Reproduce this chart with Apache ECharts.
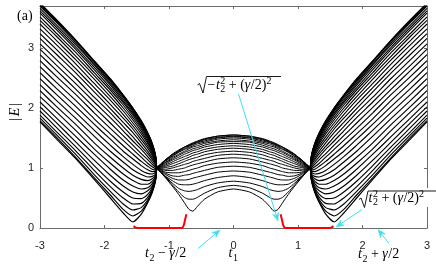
<!DOCTYPE html>
<html><head><meta charset="utf-8">
<script src="https://cdn.jsdelivr.net/npm/echarts@6/dist/echarts.min.js"></script>
<style>html,body{margin:0;padding:0;background:#fff}#c{width:436px;height:272px}</style>
</head><body><div id="c"></div>
<script>
// ---------------- data ----------------
const xTicks = [-3, -2, -1, 0, 1, 2, 3];
const yTicks = [0, 1, 2, 3];

// outer branches |E|(t1) for t1 >= crossing (mirror image on the left)
const wingX = [1.19, 1.21, 1.26, 1.33, 1.43, 1.56, 1.71, 1.91, 2.16, 2.45, 2.75, 3.0];
const wingE = [
  [1.00,1.00,1.00,1.00,1.00,1.00,1.00,1.00,1.00,1.00,1.00,1.00,1.00,1.00,1.00,1.00,1.00,1.00,1.00,1.00,1.00,1.00,1.00,1.00,1.00,1.00,1.00,1.00,1.00,1.00],
  [1.22,1.21,1.21,1.20,1.20,1.19,1.17,1.16,1.15,1.13,1.11,1.09,1.08,1.06,1.03,1.01,0.99,0.97,0.95,0.93,0.90,0.88,0.86,0.85,0.83,0.82,0.80,0.79,0.79,0.78],
  [1.41,1.41,1.40,1.39,1.38,1.36,1.34,1.32,1.29,1.27,1.24,1.21,1.17,1.14,1.10,1.06,1.02,0.98,0.94,0.90,0.86,0.82,0.78,0.74,0.70,0.67,0.64,0.62,0.60,0.59],
  [1.59,1.58,1.57,1.56,1.54,1.52,1.50,1.47,1.44,1.41,1.37,1.33,1.28,1.24,1.19,1.14,1.08,1.03,0.97,0.91,0.85,0.79,0.73,0.67,0.62,0.56,0.51,0.47,0.44,0.42],
  [1.79,1.78,1.77,1.75,1.73,1.71,1.68,1.65,1.61,1.57,1.52,1.47,1.42,1.36,1.31,1.24,1.18,1.11,1.04,0.96,0.89,0.81,0.73,0.65,0.57,0.49,0.41,0.34,0.28,0.23],
  [2.00,2.00,1.98,1.96,1.94,1.91,1.88,1.84,1.80,1.75,1.70,1.65,1.59,1.52,1.45,1.38,1.31,1.23,1.15,1.06,0.97,0.88,0.79,0.70,0.60,0.50,0.40,0.30,0.20,0.10],
  [2.22,2.21,2.20,2.18,2.15,2.12,2.09,2.05,2.00,1.95,1.89,1.83,1.76,1.69,1.62,1.54,1.46,1.37,1.28,1.19,1.10,1.00,0.90,0.80,0.70,0.60,0.50,0.40,0.31,0.25],
  [2.49,2.48,2.46,2.44,2.41,2.38,2.34,2.30,2.25,2.19,2.13,2.06,1.99,1.92,1.84,1.75,1.66,1.57,1.48,1.38,1.28,1.18,1.08,0.98,0.88,0.78,0.69,0.61,0.55,0.50],
  [2.79,2.78,2.77,2.74,2.72,2.68,2.64,2.59,2.54,2.48,2.41,2.34,2.27,2.18,2.10,2.01,1.92,1.82,1.73,1.63,1.53,1.42,1.32,1.23,1.13,1.04,0.96,0.89,0.84,0.81],
  [3.14,3.13,3.12,3.09,3.06,3.02,2.98,2.93,2.87,2.81,2.74,2.66,2.59,2.50,2.41,2.32,2.23,2.13,2.03,1.93,1.83,1.73,1.63,1.53,1.44,1.36,1.29,1.23,1.18,1.16],
  [3.48,3.47,3.45,3.43,3.39,3.35,3.31,3.25,3.20,3.13,3.06,2.98,2.90,2.81,2.72,2.63,2.53,2.43,2.33,2.23,2.13,2.03,1.94,1.84,1.76,1.68,1.61,1.56,1.52,1.49],
  [3.75,3.74,3.72,3.70,3.66,3.62,3.58,3.52,3.46,3.40,3.32,3.24,3.16,3.07,2.98,2.89,2.79,2.69,2.59,2.49,2.39,2.29,2.19,2.10,2.02,1.95,1.88,1.83,1.79,1.77]
];

// central dome |E|(t1) for 0 <= t1 <= crossing (mirror image on the left)
const domeX = [0, 0.25, 0.45, 0.56, 0.63, 0.69, 0.76, 0.85, 0.95, 1.05, 1.13, 1.19];
const domeE = [
  [1.55,1.55,1.53,1.52,1.50,1.47,1.44,1.41,1.37,1.33,1.28,1.23,1.17,1.10,1.03,0.95,0.87,0.78,0.71,0.65],
  [1.53,1.53,1.51,1.50,1.48,1.45,1.43,1.39,1.35,1.31,1.26,1.21,1.15,1.08,1.01,0.93,0.84,0.75,0.67,0.60],
  [1.49,1.48,1.47,1.45,1.43,1.41,1.38,1.35,1.31,1.27,1.22,1.16,1.10,1.04,0.96,0.88,0.79,0.69,0.58,0.48],
  [1.45,1.44,1.43,1.42,1.40,1.37,1.34,1.31,1.27,1.23,1.18,1.13,1.07,1.00,0.93,0.85,0.75,0.64,0.51,0.36],
  [1.42,1.41,1.40,1.39,1.37,1.35,1.32,1.29,1.25,1.21,1.16,1.11,1.05,0.98,0.91,0.83,0.73,0.62,0.48,0.28],
  [1.39,1.38,1.37,1.36,1.34,1.32,1.29,1.26,1.22,1.18,1.14,1.08,1.03,0.96,0.89,0.81,0.72,0.61,0.48,0.31],
  [1.35,1.35,1.34,1.32,1.31,1.28,1.26,1.23,1.19,1.15,1.11,1.06,1.00,0.94,0.88,0.80,0.72,0.62,0.51,0.42],
  [1.30,1.29,1.28,1.27,1.26,1.23,1.21,1.18,1.15,1.11,1.07,1.03,0.98,0.92,0.86,0.80,0.73,0.66,0.60,0.56],
  [1.23,1.22,1.22,1.20,1.19,1.17,1.15,1.13,1.10,1.07,1.03,1.00,0.96,0.92,0.87,0.83,0.79,0.75,0.72,0.70],
  [1.14,1.14,1.14,1.13,1.12,1.10,1.09,1.07,1.05,1.03,1.01,0.98,0.96,0.93,0.91,0.89,0.86,0.85,0.84,0.83],
  [1.07,1.06,1.06,1.06,1.05,1.04,1.04,1.03,1.02,1.01,1.00,0.99,0.98,0.97,0.96,0.95,0.94,0.93,0.93,0.93],
  [1.00,1.00,1.00,1.00,1.00,1.00,1.00,1.00,1.00,1.00,1.00,1.00,1.00,1.00,1.00,1.00,1.00,1.00,1.00,1.00]
];

// zero-energy edge mode (red), right half; mirrored on the left
const zeroX = [0.73, 0.75, 0.77, 0.79, 0.82, 1.48, 1.52, 1.55];
const zeroE = [0.23, 0.14, 0.05, 0.01, 0.00, 0.00, 0.01, 0.03];

// ---------------- build series ----------------
const series = [];
function blackLine(pts, w) {
  return { type: 'line', data: pts, showSymbol: false, symbol: 'none', smooth: 0.2,
    lineStyle: { color: '#000', width: w }, silent: true, animation: false, z: 2 };
}
const nW = wingE[0].length;
for (let j = 0; j < nW; j++) {
  series.push(blackLine(wingX.map((x, i) => [x, wingE[i][j]]), 1.15));
  series.push(blackLine(wingX.map((x, i) => [-x, wingE[i][j]]), 1.15));
}
const nD = domeE[0].length;
for (let j = 0; j < nD; j++) {
  const pts = [];
  for (let i = domeX.length - 1; i > 0; i--) pts.push([-domeX[i], domeE[i][j]]);
  for (let i = 0; i < domeX.length; i++) pts.push([domeX[i], domeE[i][j]]);
  series.push(blackLine(pts, 1));
}
function redLine(pts) {
  return { type: 'line', data: pts, showSymbol: false, symbol: 'none', smooth: 0.2,
    lineStyle: { color: '#ff0000', width: 2 }, silent: true, animation: false, z: 5 };
}
series.push(redLine(zeroX.map((x, i) => [x, zeroE[i]])));
series.push(redLine(zeroX.map((x, i) => [-x, zeroE[i]])));

// ---------------- annotations ----------------
const SERIF = '"Liberation Serif", "Times New Roman", serif';
const ctx = document.createElement('canvas').getContext('2d');
function fontStr(s, it) { return (it ? 'italic ' : '') + s + 'px ' + SERIF; }
function measure(t, f) { ctx.font = f; return ctx.measureText(t).width; }
function mathRun(x0, base, size, parts, out) {
  let x = x0;
  for (const p of parts) {
    if (p.gap !== undefined) { x += p.gap; continue; }
    const s = (p.sub || p.sup) ? Math.round(size * 0.7) : size;
    const f = fontStr(s, p.it);
    const w = measure(p.t, f);
    let yb = base;
    if (p.sub) yb = base + size * 0.22;
    if (p.sup) yb = base - size * 0.4;
    out.push({ type: 'text', x: x, y: yb - 0.34 * s, z: 100,
      style: { text: p.t, font: f, fill: '#000', align: 'left', verticalAlign: 'middle' } });
    if (!p.stack) x += w + (p.after || 0);
  }
  return x;
}
const CYAN = '#3fdfee';
function arrow(x1, y1, x2, y2, out) {
  const dx = x2 - x1, dy = y2 - y1, L = Math.hypot(dx, dy);
  const ux = dx / L, uy = dy / L, px = -uy, py = ux;
  const hl = 8, hw = 3.2, nb = 5.5;
  out.push({ type: 'line', z: 100, shape: { x1: x1, y1: y1, x2: x2 - ux * nb, y2: y2 - uy * nb },
    style: { stroke: CYAN, lineWidth: 1 } });
  out.push({ type: 'polygon', z: 100, shape: { points: [
      [x2, y2], [x2 - ux * hl + px * hw, y2 - uy * hl + py * hw],
      [x2 - ux * nb, y2 - uy * nb], [x2 - ux * hl - px * hw, y2 - uy * hl - py * hw]] },
    style: { fill: CYAN, stroke: CYAN, lineWidth: 0.5 } });
}
function radical(x0, top, bottom, xEnd, out) {
  out.push({ type: 'polyline', z: 100, shape: { points: [
      [x0, bottom - 8], [x0 + 2, bottom - 9.5], [x0 + 5.5, bottom], [x0 + 9, top], [xEnd, top]] },
    style: { stroke: '#000', lineWidth: 0.9, fill: null } });
}

const gfx = [];
gfx.push({ type: 'rect', z: 90, shape: { x: 392, y: 188, width: 44, height: 19 }, style: { fill: '#fff' } });

const FS = 14;
// sqrt(-t2^2 + (gamma/2)^2)
radical(197.5, 76.5, 93, 281, gfx);
mathRun(207.5, 90, FS, [
  { t: '\u2212' }, { gap: 0.5 }, { t: 't', it: true, after: 0.5 }, { t: '2', sub: true, stack: true }, { t: '2', sup: true },
  { gap: 3.5 }, { t: '+' }, { gap: 3.5 }, { t: '(' }, { t: '\u03b3', it: true, after: 0.5 }, { t: '/2)' }, { t: '2', sup: true }
], gfx);
arrow(238.5, 94, 278, 221, gfx);

// sqrt(t2^2 + (gamma/2)^2)
radical(359, 191, 207.5, 436, gfx);
mathRun(368.5, 203, FS, [
  { t: 't', it: true, after: 0.5 }, { t: '2', sub: true, stack: true }, { t: '2', sup: true },
  { gap: 3.5 }, { t: '+' }, { gap: 3.5 }, { t: '(' }, { t: '\u03b3', it: true, after: 0.5 }, { t: '/2)' }, { t: '2', sup: true }
], gfx);
arrow(362, 209.5, 336, 227, gfx);

// t2 - gamma/2
mathRun(145, 258.5, FS, [
  { t: 't', it: true, after: 0.5 }, { t: '2', sub: true }, { gap: 3.5 }, { t: '\u2212' }, { gap: 3.5 },
  { t: '\u03b3', it: true, after: 0.5 }, { t: '/2' }
], gfx);
arrow(198, 248.5, 220, 230, gfx);

// t2 + gamma/2
mathRun(358, 259.5, FS, [
  { t: 't', it: true, after: 0.5 }, { t: '2', sub: true }, { gap: 3.5 }, { t: '+' }, { gap: 3.5 },
  { t: '\u03b3', it: true, after: 0.5 }, { t: '/2' }
], gfx);
arrow(389, 243.5, 378, 229.5, gfx);

// x-axis label t1
mathRun(228.5, 258.5, FS, [{ t: 't', it: true, after: 0.5 }, { t: '1', sub: true }], gfx);

// panel label (a)
gfx.push({ type: 'text', x: 17, y: 16, z: 100,
  style: { text: '(a)', font: fontStr(14, false), fill: '#000', align: 'left', verticalAlign: 'middle' } });

// y-axis label |E|
gfx.push({ type: 'text', x: 15, y: 112, rotation: Math.PI / 2, z: 100,
  style: { text: '{r||}{i|E}{r||}', align: 'center', verticalAlign: 'middle', fill: '#000',
    rich: { r: { font: fontStr(14, false), padding: [0, 2, 0, 2] }, i: { font: fontStr(14, true) } } } });

// ---------------- chart ----------------
const AX = '#6b6b6b';
const common = {
  type: 'value', splitLine: { show: false },
  axisLine: { show: true, onZero: false, lineStyle: { color: AX, width: 1 } },
  axisTick: { show: true, inside: true, length: 3, lineStyle: { color: AX, width: 1 } }
};
const labelStyle = { fontSize: 11, color: '#262626', fontFamily: '"Liberation Sans", Arial, sans-serif' };

const chart = echarts.init(document.getElementById('c'), null, { renderer: 'canvas' });
chart.setOption({
  animation: false,
  backgroundColor: '#fff',
  grid: { left: 40, right: 9, top: 6, bottom: 44, containLabel: false, outerBoundsMode: 'none' },
  xAxis: [
    Object.assign({}, common, { position: 'bottom', min: xTicks[0], max: xTicks[xTicks.length - 1], interval: 1,
      axisLabel: Object.assign({ show: true, margin: 12 }, labelStyle) }),
    Object.assign({}, common, { position: 'top', min: xTicks[0], max: xTicks[xTicks.length - 1], interval: 1,
      axisLabel: { show: false } })
  ],
  yAxis: [
    Object.assign({}, common, { position: 'left', min: yTicks[0], max: 3.7, interval: 1,
      axisLabel: Object.assign({ show: true, margin: 6, showMaxLabel: false }, labelStyle) }),
    Object.assign({}, common, { position: 'right', min: yTicks[0], max: 3.7, interval: 1,
      axisLabel: { show: false } })
  ],
  series: series,
  graphic: gfx
});
</script>
</body></html>
